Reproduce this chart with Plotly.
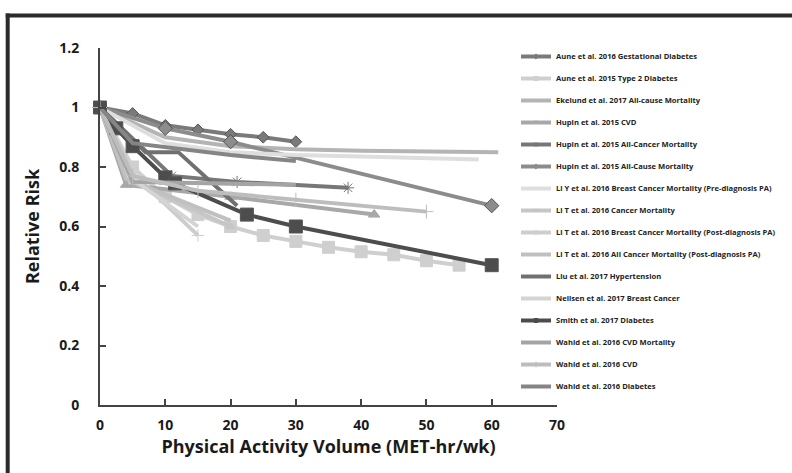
import plotly.graph_objects as go

# ---------------- data ----------------
series_names = [
    "Aune et al. 2016 Gestational Diabetes",
    "Aune et al. 2015 Type 2 Diabetes",
    "Ekelund et al. 2017 All-cause Mortality",
    "Hupin et al. 2015 CVD",
    "Hupin et al. 2015 All-Cancer Mortality",
    "Hupin et al. 2015 All-Cause Mortality",
    "Li Y et al. 2016 Breast Cancer Mortality (Pre-diagnosis PA)",
    "Li T et al. 2016 Cancer Mortality",
    "Li T et al. 2016 Breast Cancer Mortality (Post-diagnosis PA)",
    "Li T et al. 2016 All Cancer Mortality (Post-diagnosis PA)",
    "Liu et al. 2017 Hypertension",
    "Neilsen et al. 2017 Breast Cancer",
    "Smith et al. 2017 Diabetes",
    "Wahid et al. 2016 CVD Mortality",
    "Wahid et al. 2016 CVD",
    "Wahid et al. 2016 Diabetes",
]

aune_gd_x = [0, 5, 10, 15, 20, 25, 30]
aune_gd_y = [1.0, 0.98, 0.94, 0.925, 0.91, 0.90, 0.885]

aune_t2d_x = [0, 5, 10, 15, 20, 25, 30, 35, 40, 45, 50, 55]
aune_t2d_y = [1.0, 0.80, 0.70, 0.64, 0.60, 0.57, 0.55, 0.53, 0.515, 0.505, 0.485, 0.47]

ekelund_x = [0, 10, 20, 30, 40, 50, 61]
ekelund_y = [1.0, 0.90, 0.87, 0.86, 0.855, 0.853, 0.85]

hupin_cvd_x = [0, 4, 20, 42]
hupin_cvd_y = [1.0, 0.74, 0.70, 0.64]

hupin_cancer_x = [0, 11, 21, 38]
hupin_cancer_y = [1.0, 0.77, 0.75, 0.73]

hupin_all_x = [0, 10, 20, 60]
hupin_all_y = [1.0, 0.93, 0.885, 0.67]

liy_x = [0, 10, 20, 30, 40, 50, 58]
liy_y = [1.0, 0.88, 0.85, 0.84, 0.835, 0.83, 0.825]

lit_cancer_x = [0, 5, 20]
lit_cancer_y = [1.0, 0.75, 0.60]

lit_breast_x = [0, 5, 15]
lit_breast_y = [1.0, 0.78, 0.57]

lit_all_x = [0, 4, 20]
lit_all_y = [1.0, 0.76, 0.62]

liu_x = [0, 7, 12, 21]
liu_y = [1.0, 0.85, 0.85, 0.67]

neilsen_x = [0, 5, 15]
neilsen_y = [1.0, 0.76, 0.60]

smith_x = [0, 2.5, 5, 10, 11.5, 22.5, 30, 60]
smith_y = [1.0, 0.93, 0.87, 0.765, 0.745, 0.64, 0.60, 0.47]

wahid_cvdm_x = [0, 5, 30]
wahid_cvdm_y = [1.0, 0.75, 0.74]

wahid_cvd_x = [0, 5, 15, 30, 50]
wahid_cvd_y = [1.0, 0.77, 0.72, 0.69, 0.65]

wahid_diab_x = [0, 5, 20, 30]
wahid_diab_y = [1.0, 0.88, 0.84, 0.82]

x_ticks = [0, 10, 20, 30, 40, 50, 60, 70]
y_ticks = [0, 0.2, 0.4, 0.6, 0.8, 1.0, 1.2]
y_tick_text = ["0", "0.2", "0.4", "0.6", "0.8", "1", "1.2"]

# ---------------- styles ----------------
xs = [aune_gd_x, aune_t2d_x, ekelund_x, hupin_cvd_x, hupin_cancer_x, hupin_all_x,
      liy_x, lit_cancer_x, lit_breast_x, lit_all_x, liu_x, neilsen_x, smith_x,
      wahid_cvdm_x, wahid_cvd_x, wahid_diab_x]
ys = [aune_gd_y, aune_t2d_y, ekelund_y, hupin_cvd_y, hupin_cancer_y, hupin_all_y,
      liy_y, lit_cancer_y, lit_breast_y, lit_all_y, liu_y, neilsen_y, smith_y,
      wahid_cvdm_y, wahid_cvd_y, wahid_diab_y]

colors = ["#7a7a7a", "#cfcfcf", "#b4b4b4", "#a8a8a8", "#777777", "#8c8c8c",
          "#dedede", "#c6c6c6", "#cdcdcd", "#c0c0c0", "#707070", "#d4d4d4",
          "#4d4d4d", "#a4a4a4", "#bdbdbd", "#858585"]
symbols = ["diamond", "square", "circle", "triangle-up", "asterisk", "diamond",
           "circle", "triangle-up", "cross-thin", "circle", "circle", "square",
           "square", "circle", "cross-thin", "circle"]
msizes = [9, 12, 0, 10, 10, 11, 0, 8, 9, 0, 0, 0, 13, 0, 10, 0]

fig = go.Figure()
for i in range(16):
    has_marker = msizes[i] > 0
    fig.add_trace(go.Scatter(
        x=xs[i], y=ys[i], name=series_names[i],
        mode="lines+markers" if has_marker else "lines",
        line=dict(color=colors[i], width=4),
        marker=dict(symbol=symbols[i], size=msizes[i], color=colors[i],
                    line=dict(color="#555555" if i in (12, 5, 0) else colors[i], width=1)),
        legendgroup=str(i), showlegend=False,
        cliponaxis=False,
    ))
    # legend entry (small marker, like the reference key)
    fig.add_trace(go.Scatter(
        x=[None], y=[None], name=series_names[i],
        mode="lines+markers" if has_marker else "lines",
        line=dict(color=colors[i], width=4),
        marker=dict(symbol=symbols[i], size=4, color=colors[i],
                    line=dict(color=colors[i], width=1)),
        legendgroup=str(i), showlegend=True,
    ))

# ---------------- layout ----------------
W, H = 792, 473
L, R, T, B = 100, 234, 48, 68
pw, ph = W - L - R, H - T - B


def px2paper_x(p):
    return (p - L) / pw


def px2paper_y(p):
    return (H - B - p) / ph


shapes = [
    dict(type="line", xref="paper", yref="paper",
         x0=px2paper_x(5.5), x1=px2paper_x(800), y0=px2paper_y(15.5), y1=px2paper_y(15.5),
         line=dict(color="#2b2b2b", width=4)),
    dict(type="line", xref="paper", yref="paper",
         x0=px2paper_x(7.5), x1=px2paper_x(7.5), y0=px2paper_y(13.5), y1=px2paper_y(480),
         line=dict(color="#2b2b2b", width=4)),
]

fig.update_layout(
    width=W, height=H,
    margin=dict(l=L, r=R, t=T, b=B),
    paper_bgcolor="white", plot_bgcolor="white",
    font=dict(family="Open Sans", color="#1a1a1a"),
    showlegend=True,
    legend=dict(x=px2paper_x(516), y=px2paper_y(42), xanchor="left", yanchor="top",
                font=dict(size=7.6, family="Open Sans", color="#222222", weight="bold"),
                tracegroupgap=3, itemwidth=30,
                bgcolor="rgba(0,0,0,0)", maxheight=460),
    shapes=shapes,
    xaxis=dict(range=[0, 70], tickvals=x_ticks, ticks="inside", ticklen=6,
               tickcolor="#444444", tickwidth=1.5, ticklabelstandoff=6,
               showline=True, linecolor="#444444", linewidth=2, showgrid=False, zeroline=False,
               tickfont=dict(size=14, family="Open Sans", weight="bold"),
               title=dict(text="Physical Activity Volume (MET-hr/wk)", standoff=0,
                          font=dict(size=18, family="Open Sans", weight="bold"))),
    yaxis=dict(range=[0, 1.2], tickvals=y_ticks, ticktext=y_tick_text, ticks="inside", ticklen=6,
               tickcolor="#444444", tickwidth=1.5, ticklabelstandoff=16,
               showline=True, linecolor="#444444", linewidth=2, showgrid=False, zeroline=False,
               tickfont=dict(size=14, family="Open Sans", weight="bold"),
               title=dict(text="Relative Risk", standoff=15,
                          font=dict(size=18, family="Open Sans", weight="bold"))),
)

fig.write_html("out.html", config={"displayModeBar": False},
               post_script="document.body.style.margin='0px';")
